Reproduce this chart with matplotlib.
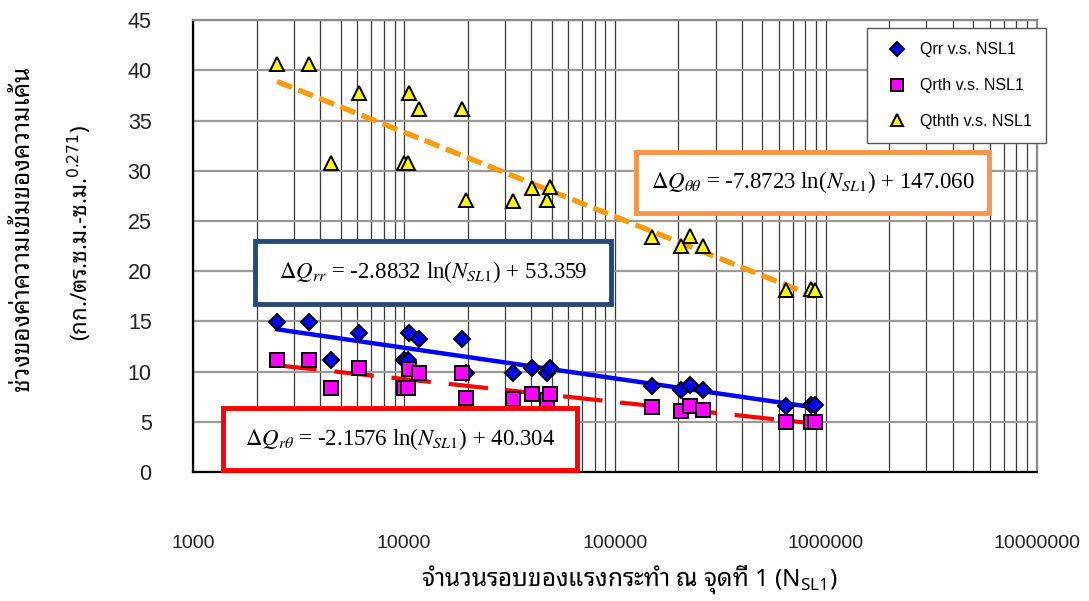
import numpy as np
import matplotlib
matplotlib.use("Agg")
import matplotlib.pyplot as plt
from matplotlib import font_manager as fm
from matplotlib.ticker import FixedLocator, NullFormatter, LogLocator

# ---- data -----------------------------------------------------------------
n_sl1 = [2500, 3550, 4480, 6100, 10000, 10400, 10600, 11800, 18900, 19700,
         33000, 40600, 47800, 49000, 150000, 205000, 226000, 260000,
         645000, 850000, 890000]
q_rr = [14.9, 14.9, 11.2, 13.8, 11.2, 11.2, 13.8, 13.2, 13.2, 9.9,
        9.9, 10.4, 9.9, 10.4, 8.6, 8.2, 8.7, 8.2, 6.6, 6.7, 6.7]
q_rth = [11.15, 11.15, 8.4, 10.4, 8.4, 8.4, 10.3, 9.9, 9.9, 7.4,
         7.3, 7.8, 7.2, 7.8, 6.5, 6.1, 6.6, 6.2, 5.0, 5.0, 5.0]
q_thth = [40.6, 40.6, 30.8, 37.7, 30.8, 30.8, 37.7, 36.1, 36.1, 27.1,
          27.0, 28.3, 27.1, 28.4, 23.4, 22.5, 23.5, 22.5, 18.1, 18.2, 18.1]

series_labels = ["Qrr v.s. NSL1", "Qrth v.s. NSL1", "Qthth v.s. NSL1"]
eq_rr = r"$\Delta Q_{rr}$ = -2.8832 ln($N_{SL1}$) + 53.359"
eq_rth = r"$\Delta Q_{r\theta}$ = -2.1576 ln($N_{SL1}$) + 40.304"
eq_thth = r"$\Delta Q_{\theta\theta}$ = -7.8723 ln($N_{SL1}$) + 147.060"

ylabel_1 = "ช่วงของค่าความเข้มของความเค้น"
ylabel_2 = "(กก./ตร.ซ.ม.-ซ.ม.$^{0.271}$)"
xlabel = "จำนวนรอบของแรงกระทำ ณ จุดที่ 1 (N$_{\\mathregular{SL1}}$)"

x_ticks = [1000, 10000, 100000, 1000000, 10000000]
y_ticks = [0, 5, 10, 15, 20, 25, 30, 35, 40, 45]

# ---- fonts ----------------------------------------------------------------
installed = {f.name for f in fm.fontManager.ttflist}
thai_pick = [f for f in ("Noto Sans Thai Looped", "Loma",
                         "IBM Plex Sans Thai Looped", "Noto Sans Thai")
             if f in installed][:1]
thai_fam = thai_pick + ["DejaVu Sans"]
plt.rcParams["font.family"] = ["Liberation Sans", "DejaVu Sans"]

# ---- figure ---------------------------------------------------------------
fig = plt.figure(figsize=(10.89, 6.01), dpi=100)
ax = fig.add_axes([0.1775, 0.2146, 0.7745, 0.752])

ax.set_xscale("log")
ax.set_xlim(1000, 10000000)
ax.set_ylim(0, 45)

# grid
ax.xaxis.set_major_locator(FixedLocator(x_ticks))
ax.xaxis.set_minor_locator(LogLocator(base=10, subs=np.arange(2, 10)))
ax.xaxis.set_minor_formatter(NullFormatter())
ax.set_xticklabels([str(v) for v in x_ticks])
ax.set_yticks(y_ticks)
ax.grid(True, which="major", axis="y", color="#9a9a9a", lw=1.6, zorder=0)
ax.grid(True, which="both", axis="x", color="#3a3a3a", lw=0.9, zorder=0)
ax.set_axisbelow(True)
ax.tick_params(axis="both", which="both", length=0)
ax.tick_params(axis="y", labelsize=15.5, pad=30, colors="#222222")
ax.tick_params(axis="x", labelsize=14, pad=45, colors="#222222")

for side in ("left", "bottom"):
    ax.spines[side].set_color("black")
    ax.spines[side].set_linewidth(1.6)
for side in ("top", "right"):
    ax.spines[side].set_color("#8a8a8a")
    ax.spines[side].set_linewidth(1.6)

# logarithmic trend lines (least squares on ln N)
n_arr = np.array(n_sl1, dtype=float)
xs = np.geomspace(n_arr.min(), n_arr.max(), 200)


def trend(y):
    a, b = np.polyfit(np.log(n_arr), np.array(y), 1)
    return a * np.log(xs) + b


ax.plot(xs, trend(q_thth), color="#FF9A0A", lw=3.8, ls=(0, (3.0, 1.3)),
        zorder=3)
ax.plot(xs, trend(q_rr), color="#0000FF", lw=3.2, zorder=3)
ax.plot(xs, trend(q_rth), color="#FF0000", lw=3.0, ls=(0, (9.5, 4.3)),
        zorder=3)

# data points
h1, = ax.plot(n_sl1, q_rr, ls="none", marker="D", ms=8.5, mfc="#0000FF",
              mec="black", mew=1.4, zorder=4, label=series_labels[0])
h2, = ax.plot(n_sl1, q_rth, ls="none", marker="s", ms=10, mfc="#FF00FF",
              mec="black", mew=1.4, zorder=4, label=series_labels[1])
h3, = ax.plot(n_sl1, q_thth, ls="none", marker="^", ms=10, mfc="#FFFF00",
              mec="black", mew=1.4, zorder=4, label=series_labels[2])


# equation boxes
def eq_box(x0, y0, x1, y1, text, edge):
    l, b = x0 / 1089, 1 - y1 / 601
    w, h = (x1 - x0) / 1089, (y1 - y0) / 601
    box = plt.Rectangle((l, b), w, h, transform=fig.transFigure,
                        facecolor="white", edgecolor=edge, lw=3.5, zorder=5)
    fig.add_artist(box)
    fig.text(l + w / 2, b + h / 2, text, ha="center", va="center",
             fontsize=16.5, family=["Liberation Serif", "DejaVu Serif"],
             math_fontfamily="stix", zorder=6)


eq_box(255, 241, 611, 304, eq_rr, "#24497A")
eq_box(223, 408, 577, 470, eq_rth, "#FF0000")
eq_box(636, 152, 989, 213, eq_thth, "#F7964A")

leg = fig.legend(handles=[h1, h2, h3], loc="upper left",
                 bbox_to_anchor=(867 / 1089, 1 - 28 / 601),
                 fontsize=11.5, frameon=True, fancybox=False,
                 edgecolor="#555555", framealpha=1, borderpad=0.9,
                 labelspacing=1.3, handletextpad=0.4, markerscale=0.8,
                 borderaxespad=0)
leg.get_frame().set_linewidth(1.0)

fig.text(0.021, 0.62, ylabel_1, rotation=90, ha="center", va="center",
         fontsize=17.5, family=thai_fam)
fig.text(0.073, 0.612, ylabel_2, rotation=90, ha="center", va="center",
         fontsize=16, family=thai_fam, math_fontfamily="dejavusans")
fig.text(0.578, 0.035, xlabel, ha="center", va="center", fontsize=17.5,
         family=thai_fam, math_fontfamily="dejavusans")

fig.savefig("out.png", dpi=100)
